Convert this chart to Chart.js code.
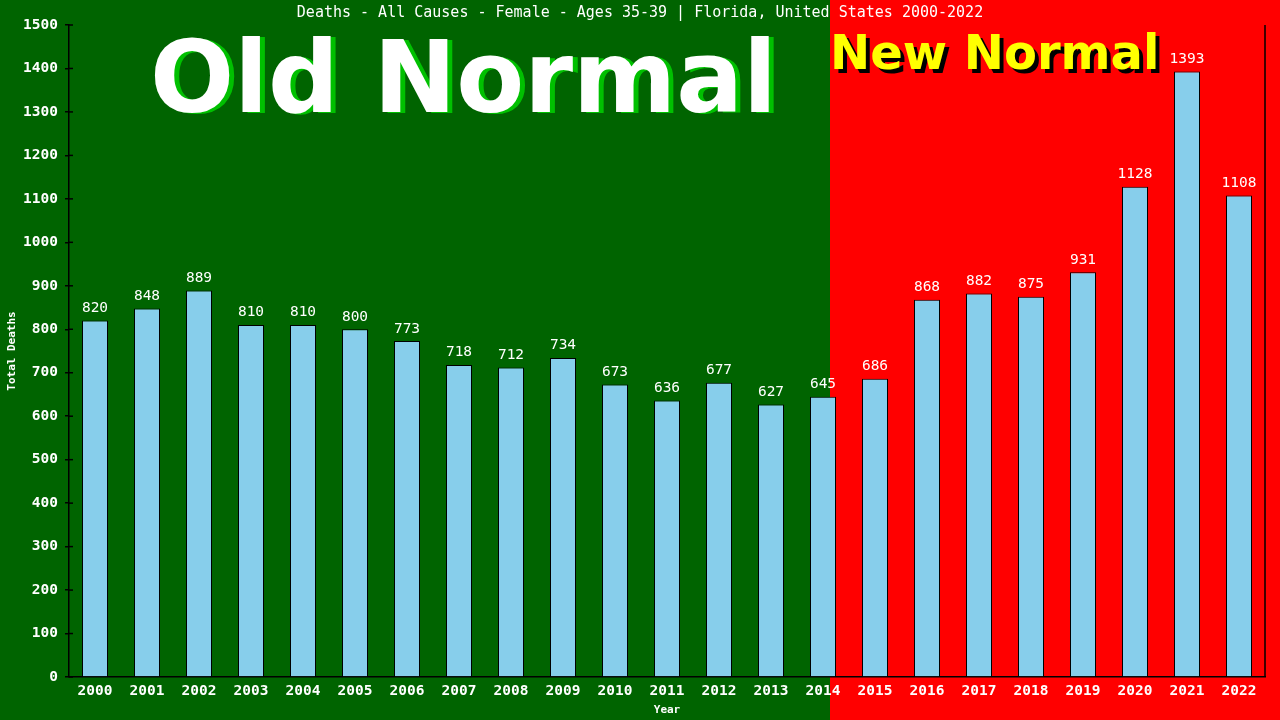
<!DOCTYPE html>
<html lang="en">
<head>
    <meta charset="UTF-8">
    <title>Deaths - All Causes - Female - Ages 35-39 | Florida</title>
    <script src="https://cdn.jsdelivr.net/npm/chart.js"></script>
    <style>
        html, body { margin: 0; padding: 0; background: #006400; }
        #wrap { width: 1280px; height: 720px; }
    </style>
</head>
<body>
    <div id="wrap"><canvas id="deathsChart" width="1280" height="720"></canvas></div>

    <script>
        const years = ['2000', '2001', '2002', '2003', '2004', '2005', '2006', '2007', '2008', '2009', '2010', '2011',
                       '2012', '2013', '2014', '2015', '2016', '2017', '2018', '2019', '2020', '2021', '2022'];
        const deaths = [820, 848, 889, 810, 810, 800, 773, 718, 712, 734, 673, 636,
                        677, 627, 645, 686, 868, 882, 875, 931, 1128, 1393, 1108];
        const yTicks = [0, 100, 200, 300, 400, 500, 600, 700, 800, 900, 1000, 1100, 1200, 1300, 1400, 1500];
        const titleText = 'Deaths - All Causes - Female - Ages 35-39 | Florida, United States 2000-2022';

        const mono = "'DejaVu Sans Mono', 'Liberation Mono', monospace";

        // green / red halves, big captions, title
        const backdrop = {
            id: 'backdrop',
            beforeDraw(chart) {
                const ctx = chart.ctx;
                const x = chart.scales.x;
                const split = x.getPixelForValue(14) + 7;
                ctx.save();
                ctx.fillStyle = '#006400';
                ctx.fillRect(0, 0, split, chart.height);
                ctx.fillStyle = '#ff0000';
                ctx.fillRect(split, 0, chart.width - split, chart.height);

                ctx.textBaseline = 'alphabetic';
                ctx.textAlign = 'left';
                ctx.font = "bold 99px 'DejaVu Sans', Verdana, sans-serif";
                ctx.fillStyle = '#00c000';
                ctx.fillText('Old Normal', 155, 113);
                ctx.fillStyle = '#ffffff';
                ctx.fillText('Old Normal', 150, 112);

                ctx.font = "bold 48px 'DejaVu Sans', Verdana, sans-serif";
                ctx.fillStyle = '#000000';
                ctx.fillText('New Normal', split + 4, 73);
                ctx.fillStyle = '#ffff00';
                ctx.fillText('New Normal', split, 69);

                ctx.font = '15px ' + mono;
                ctx.textAlign = 'center';
                ctx.fillStyle = '#ffffff';
                ctx.textBaseline = 'middle';
                ctx.fillText(titleText, 640, 13);
                ctx.restore();
            },
            afterDraw(chart) {
                const ctx = chart.ctx;
                const a = chart.chartArea;
                ctx.save();
                ctx.strokeStyle = '#000000';
                ctx.lineWidth = 1.5;
                ctx.beginPath();
                ctx.moveTo(a.right, a.top);
                ctx.lineTo(a.right, a.bottom);
                ctx.stroke();
                // inner half of the y ticks
                const y = chart.scales.y;
                yTicks.forEach(v => {
                    const py = y.getPixelForValue(v);
                    ctx.beginPath();
                    ctx.moveTo(a.left, py);
                    ctx.lineTo(a.left + 4, py);
                    ctx.stroke();
                });
                ctx.restore();
            }
        };

        // value labels above the bars
        const barLabels = {
            id: 'barLabels',
            afterDatasetsDraw(chart) {
                const ctx = chart.ctx;
                const meta = chart.getDatasetMeta(0);
                ctx.save();
                ctx.font = '14.5px ' + mono;
                ctx.fillStyle = '#ffffff';
                ctx.textAlign = 'center';
                ctx.textBaseline = 'bottom';
                meta.data.forEach((bar, i) => {
                    ctx.fillText(String(deaths[i]), bar.x, bar.y - 5);
                });
                ctx.restore();
            }
        };

        new Chart(document.getElementById('deathsChart').getContext('2d'), {
            type: 'bar',
            data: {
                labels: years,
                datasets: [{
                    label: 'Total Deaths',
                    data: deaths,
                    backgroundColor: '#87ceeb',
                    borderColor: '#000000',
                    borderWidth: 1,
                    borderSkipped: 'bottom',
                    categoryPercentage: 1.0,
                    barPercentage: 0.5
                }]
            },
            options: {
                responsive: false,
                animation: false,
                devicePixelRatio: 1,
                layout: { padding: { top: 25, right: 15, left: 6, bottom: 0 } },
                plugins: {
                    legend: { display: false },
                    title: { display: false },
                    tooltip: { enabled: false }
                },
                scales: {
                    x: {
                        grid: { display: false },
                        border: { display: true, color: '#000000', width: 1.5 },
                        ticks: { color: '#ffffff', font: { family: mono, size: 14.5, weight: 'bold' }, padding: -2, maxRotation: 0, autoSkip: false },
                        title: { display: true, text: 'Year', color: '#ffffff', font: { family: mono, size: 11, weight: 'bold' }, padding: { top: 0, bottom: 3 } },
                        afterFit(s) { s.height = 43; }
                    },
                    y: {
                        min: 0,
                        max: 1500,
                        afterBuildTicks(s) { s.ticks = yTicks.map(v => ({ value: v })); },
                        grid: { drawOnChartArea: false, color: '#000000', tickLength: 4, lineWidth: 1.5 },
                        border: { display: true, color: '#000000', width: 1.5 },
                        ticks: { color: '#ffffff', font: { family: mono, size: 14.5, weight: 'bold' }, padding: 7, callback: v => String(v) },
                        title: { display: true, text: 'Total Deaths', color: '#ffffff', font: { family: mono, size: 11, weight: 'bold' }, padding: { top: 0, bottom: 2 } },
                        afterFit(s) { s.width = 63; }
                    }
                }
            },
            plugins: [backdrop, barLabels]
        });
    </script>
</body>
</html>
